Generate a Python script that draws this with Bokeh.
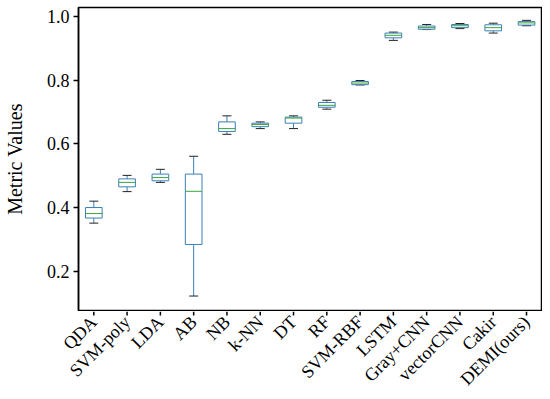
from math import pi
from bokeh.plotting import figure
from bokeh.models import Range1d, FixedTicker, ColumnDataSource, NumeralTickFormatter
from bokeh.embed import file_html
from bokeh.resources import INLINE

categories = ["QDA", "SVM-poly", "LDA", "AB", "NB", "k-NN", "DT", "RF", "SVM-RBF",
              "LSTM", "Gray+CNN", "vectorCNN", "Cakir", "DEMI(ours)"]
whisker_low = [0.351, 0.450, 0.479, 0.122, 0.630, 0.648, 0.648, 0.709, 0.785, 0.925, 0.959, 0.962, 0.948, 0.971]
q1          = [0.367, 0.465, 0.484, 0.284, 0.639, 0.654, 0.665, 0.715, 0.786, 0.933, 0.960, 0.965, 0.955, 0.973]
median      = [0.381, 0.479, 0.494, 0.451, 0.648, 0.661, 0.681, 0.721, 0.791, 0.941, 0.965, 0.971, 0.965, 0.980]
q3          = [0.400, 0.490, 0.505, 0.505, 0.669, 0.665, 0.684, 0.730, 0.796, 0.948, 0.970, 0.975, 0.974, 0.984]
whisker_high= [0.420, 0.501, 0.520, 0.561, 0.688, 0.669, 0.688, 0.737, 0.799, 0.951, 0.975, 0.978, 0.979, 0.988]
y_ticks = [0.2, 0.4, 0.6, 0.8, 1.0]

xs = list(range(len(categories)))
box_w = 0.50
cap_w = 0.27
y_start, y_end = 0.0766, 1.0283
x_start, x_end = -0.46, 13.45

# layout (pixels)
W = 542
H_main = 311
H_lab = 80
B_left, B_right, B_top, B_bottom = 78, 1, 7, 1

src = ColumnDataSource(dict(
    x=xs, lo=whisker_low, q1=q1, med=median, q3=q3, hi=whisker_high,
    bl=[x - box_w / 2 for x in xs], br=[x + box_w / 2 for x in xs],
    cl=[x - cap_w / 2 for x in xs], cr=[x + cap_w / 2 for x in xs],
))

p = figure(width=W, height=H_main, output_backend="svg", toolbar_location=None,
           x_range=Range1d(x_start, x_end), y_range=Range1d(y_start, y_end),
           min_border_left=B_left, min_border_right=B_right,
           min_border_top=B_top, min_border_bottom=B_bottom)

blue = "#3b7fb6"
green = "#3aa53a"

p.segment(x0="x", y0="q3", x1="x", y1="hi", source=src, line_color=blue, line_width=1)
p.segment(x0="x", y0="lo", x1="x", y1="q1", source=src, line_color=blue, line_width=1)
p.segment(x0="cl", y0="hi", x1="cr", y1="hi", source=src, line_color="#222222", line_width=1)
p.segment(x0="cl", y0="lo", x1="cr", y1="lo", source=src, line_color="#222222", line_width=1)
p.vbar(x="x", width=box_w, top="q3", bottom="q1", source=src,
       fill_color="white", line_color=blue, line_width=1)
p.segment(x0="bl", y0="med", x1="br", y1="med", source=src, line_color=green, line_width=1)

p.xgrid.visible = False
p.ygrid.visible = False
p.xaxis.visible = False
p.outline_line_color = "black"
p.outline_line_width = 1.5

font = "Liberation Serif"
p.yaxis.ticker = FixedTicker(ticks=y_ticks)
p.yaxis.formatter = NumeralTickFormatter(format="0.0")
p.yaxis.axis_label = "Metric Values"
ax = p.yaxis[0]
ax.axis_line_color = "black"
ax.axis_line_width = 1.5
ax.major_tick_line_color = "black"
ax.major_tick_line_width = 1.5
ax.major_tick_in = 0
ax.major_tick_out = 5
ax.minor_tick_line_color = None
ax.major_label_text_font = font
ax.major_label_text_font_size = "18px"
ax.major_label_text_color = "black"
ax.major_label_standoff = 4
ax.axis_label_text_font = font
ax.axis_label_text_font_size = "20px"
ax.axis_label_text_font_style = "normal"
ax.axis_label_text_color = "black"
ax.axis_label_standoff = 18

# category axis strip below the frame (same horizontal scale as main plot),
# rendered as its own root so its frame spans the full width
frame_w = W - B_left - B_right
ppu = frame_w / (x_end - x_start)
lx_start = x_start - B_left / ppu
lx_end = lx_start + W / ppu

q = figure(width=W, height=H_lab, output_backend="svg", toolbar_location=None,
           x_range=Range1d(lx_start, lx_end), y_range=Range1d(-H_lab, 0),
           x_axis_location=None, y_axis_location=None,
           min_border_left=0, min_border_right=0, min_border_top=0, min_border_bottom=0)
q.outline_line_color = None
q.xgrid.visible = False
q.ygrid.visible = False

tick_len = 4
label_gap = 7.5
tsrc = ColumnDataSource(dict(
    x=xs, name=categories,
    t0=[0] * len(xs), t1=[-tick_len] * len(xs), ly=[-label_gap] * len(xs),
))
q.segment(x0="x", y0="t0", x1="x", y1="t1", source=tsrc, line_color="black", line_width=1.5)
q.text(x="x", y="ly", text="name", source=tsrc, angle=pi / 4,
       text_align="right", text_baseline="middle",
       text_font={"value": font}, text_font_size="18px", text_color="black")

open("out.html", "w").write(file_html([p, q], INLINE))
